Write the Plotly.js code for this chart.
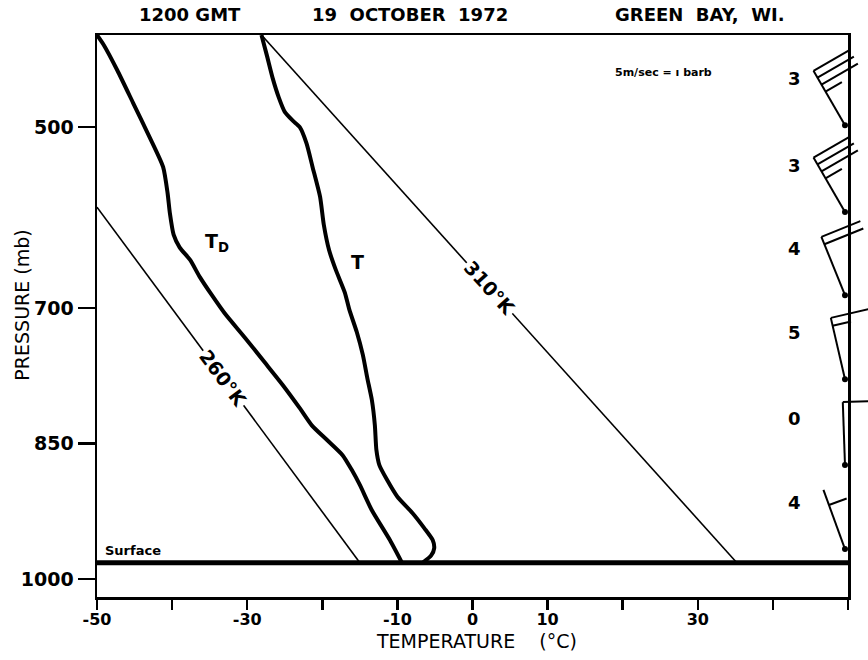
<!DOCTYPE html>
<html><head><meta charset="utf-8">
<script src="https://cdn.plot.ly/plotly-3.0.1.min.js"></script>
<style>html,body{margin:0;padding:0;background:#fff}</style>
</head><body><div id="chart" style="width:868px;height:660px"></div>
<script>
const T_PRESSURE = [398,420,446,467,483,493,500,518,544,577,608,636,658,683,702,727,752,778,802,830,857,874,890,909,927,944,957,966,974,982];
const T_TEMP     = [-28.1,-27.4,-26.6,-25.8,-25.0,-23.9,-23.0,-22.1,-21.3,-20.3,-19.8,-19.1,-18.2,-17.0,-16.4,-15.4,-14.6,-14.0,-13.4,-13.0,-12.8,-12.4,-11.4,-10.0,-8.0,-6.4,-5.3,-5.1,-5.5,-6.6];
const TD_PRESSURE = [398,409,437,473,511,544,573,595,619,633,647,666,686,706,733,760,785,811,830,846,863,879,896,924,957,982];
const TD_TEMP     = [-50.0,-49.1,-47.3,-45.2,-43.0,-41.2,-40.6,-40.3,-39.8,-39.0,-37.6,-36.3,-34.7,-33.0,-30.3,-27.7,-25.3,-23.0,-21.4,-19.4,-17.3,-16.1,-15.0,-13.4,-11.0,-9.4];
const THETA_LABELS  = ['310\u00b0K', '260\u00b0K'];
const THETA_T_START = [-28.1, -50.0];
const THETA_P_START = [398, 588.5];
const THETA_T_END   = [35.2, -15.0];
const THETA_P_END   = [982, 982];
const SURFACE_P = 982;
const WIND_P      = [498, 594, 686, 779, 874, 967];
const WIND_DIR    = [330, 330, 338, 347, 358, 340];
const WIND_FULL   = [3, 3, 2, 1, 1, 0];
const WIND_HALF   = [1, 1, 0, 1, 0, 1];
const WIND_LABELS = ['3', '3', '4', '5', '0', '4'];
const X_TICKS     = [-50, -30, -10, 0, 10, 30];
const X_TICK_TEXT = ['-50', '-30', '-10', '0', '10', '30'];
const X_MINOR_STEP = 10;
const Y_TICKS     = [500, 700, 850, 1000];
const Y_TICK_TEXT = ['500', '700', '850', '1000'];
const TITLES = ['1200 GMT', '19\u00a0\u00a0OCTOBER\u00a0\u00a01972', 'GREEN\u00a0\u00a0BAY,\u00a0\u00a0WI.'];
const X_TITLE = 'TEMPERATURE\u00a0\u00a0\u00a0\u00a0(\u00b0C)';
const Y_TITLE = 'PRESSURE (mb)';

// ---- styling / layout ----
const FONT = 'DejaVu Sans, sans-serif';
const BLACK = '#000';
const traces = [];
traces.push({x: TD_TEMP, y: TD_PRESSURE, mode: 'lines', line: {color: BLACK, width: 4, shape: 'spline', smoothing: 0.6}, hoverinfo: 'skip'});
traces.push({x: T_TEMP, y: T_PRESSURE, mode: 'lines', line: {color: BLACK, width: 4, shape: 'spline', smoothing: 0.6}, hoverinfo: 'skip'});
THETA_LABELS.forEach((_, i) => {
  traces.push({x: [THETA_T_START[i], THETA_T_END[i]], y: [THETA_P_START[i], THETA_P_END[i]], mode: 'lines', line: {color: BLACK, width: 1.6}, hoverinfo: 'skip'});
});
traces.push({x: [-50, 50], y: [SURFACE_P, SURFACE_P], mode: 'lines', line: {color: BLACK, width: 5}, hoverinfo: 'skip'});

const annotations = [];
const TITLE_X = [0.124, 0.417, 0.803];
TITLES.forEach((t, i) => annotations.push({text: t, xref: 'paper', yref: 'paper', x: TITLE_X[i], y: 1.036, xanchor: 'center', yanchor: 'middle', showarrow: false, font: {family: FONT, size: 18, weight: 'bold', color: BLACK}}));
const LABEL_FRAC = [0.48, 0.48];
const LABEL_ANGLE = [48, 53.5];
THETA_LABELS.forEach((t, i) => {
  const f = LABEL_FRAC[i];
  annotations.push({text: t, x: THETA_T_START[i] + f * (THETA_T_END[i] - THETA_T_START[i]), y: THETA_P_START[i] + f * (THETA_P_END[i] - THETA_P_START[i]),
    showarrow: false, textangle: LABEL_ANGLE[i], bgcolor: '#fff', borderpad: 1, font: {family: FONT, size: 19, weight: 'bold', color: BLACK}});
});
annotations.push({text: 'T<sub>D</sub>', x: -34.0, y: 628, showarrow: false, font: {family: FONT, size: 19, weight: 'bold', color: BLACK}});
annotations.push({text: 'T', x: -15.3, y: 649, showarrow: false, font: {family: FONT, size: 19, weight: 'bold', color: BLACK}});
annotations.push({text: 'Surface', xref: 'paper', x: 0.008, xanchor: 'left', y: SURFACE_P, yshift: 12, showarrow: false, font: {family: FONT, size: 13, weight: 'bold', color: BLACK}});
annotations.push({text: '5m/sec = \u0131 barb', xref: 'paper', yref: 'paper', x: 0.687, xanchor: 'left', yanchor: 'middle', y: 0.934, showarrow: false, font: {family: FONT, size: 11, weight: 'bold', color: BLACK}});
annotations.push({text: Y_TITLE, xref: 'paper', yref: 'paper', x: -0.1, y: 0.52, xanchor: 'center', yanchor: 'middle', textangle: -90, showarrow: false, font: {family: FONT, size: 19, color: BLACK}});
annotations.push({text: X_TITLE, xref: 'paper', yref: 'paper', x: 0.505, y: -0.0785, xanchor: 'center', yanchor: 'middle', showarrow: false, font: {family: FONT, size: 19, color: BLACK}});

// wind barbs
const shapes = [];
const XA = 0.996, STAFF = 63, BARB = 42, SPACING = 8;
function seg(p, x0, y0, x1, y1) {
  return {type: 'line', xref: 'paper', yref: 'y', xsizemode: 'pixel', ysizemode: 'pixel', xanchor: XA, yanchor: p, x0, y0, x1, y1, line: {color: BLACK, width: 2}};
}
WIND_P.forEach((p, i) => {
  const a = WIND_DIR[i] * Math.PI / 180;
  const ux = Math.sin(a), uy = Math.cos(a);
  const px = uy, py = -ux;
  const tx = ux * STAFF, ty = uy * STAFF;
  shapes.push(seg(p, 0, 0, tx, ty));
  const list = [];
  for (let k = 0; k < WIND_FULL[i]; k++) list.push(1);
  for (let k = 0; k < WIND_HALF[i]; k++) list.push(0.45);
  let k = WIND_FULL[i] === 0 ? 2 : 0;
  list.forEach(f => {
    const bx = tx - ux * SPACING * k, by = ty - uy * SPACING * k;
    shapes.push(seg(p, bx, by, bx + px * BARB * f, by + py * BARB * f));
    k++;
  });
  shapes.push({type: 'circle', xref: 'paper', yref: 'y', xsizemode: 'pixel', ysizemode: 'pixel', xanchor: XA, yanchor: p, x0: -3, x1: 3, y0: -3, y1: 3, fillcolor: BLACK, line: {width: 0}});
  annotations.push({text: WIND_LABELS[i], xref: 'paper', x: 0.9294, xanchor: 'center', y: p, yshift: 47, showarrow: false, font: {family: FONT, size: 18, weight: 'bold', color: BLACK}});
});

const layout = {
  width: 868, height: 660,
  margin: {l: 97, r: 20, t: 35, b: 63},
  paper_bgcolor: '#fff', plot_bgcolor: '#fff',
  showlegend: false,
  font: {family: FONT, color: BLACK},
  xaxis: {range: [-50, 50], tickvals: X_TICKS, ticktext: X_TICK_TEXT, ticks: 'outside', ticklen: 10, tickwidth: 2.5, tickcolor: BLACK,
    ticklabelstandoff: -4,
    minor: {dtick: X_MINOR_STEP, tick0: 0, ticks: 'outside', ticklen: 10, tickwidth: 2.5, tickcolor: BLACK, showgrid: false},
    showline: true, mirror: true, linewidth: 2.5, linecolor: BLACK, showgrid: false, zeroline: false,
    tickfont: {family: FONT, size: 16, weight: 'bold', color: BLACK}},
  yaxis: {range: [1020, 398], tickvals: Y_TICKS, ticktext: Y_TICK_TEXT, ticks: 'outside', ticklen: 17, tickwidth: 2.5, tickcolor: BLACK,
    showline: true, mirror: true, linewidth: 2.5, linecolor: BLACK, showgrid: false, zeroline: false,
    tickfont: {family: FONT, size: 19, weight: 'bold', color: BLACK}},
  annotations, shapes
};
Plotly.newPlot('chart', traces, layout, {displayModeBar: false, staticPlot: true});
</script></body></html>
